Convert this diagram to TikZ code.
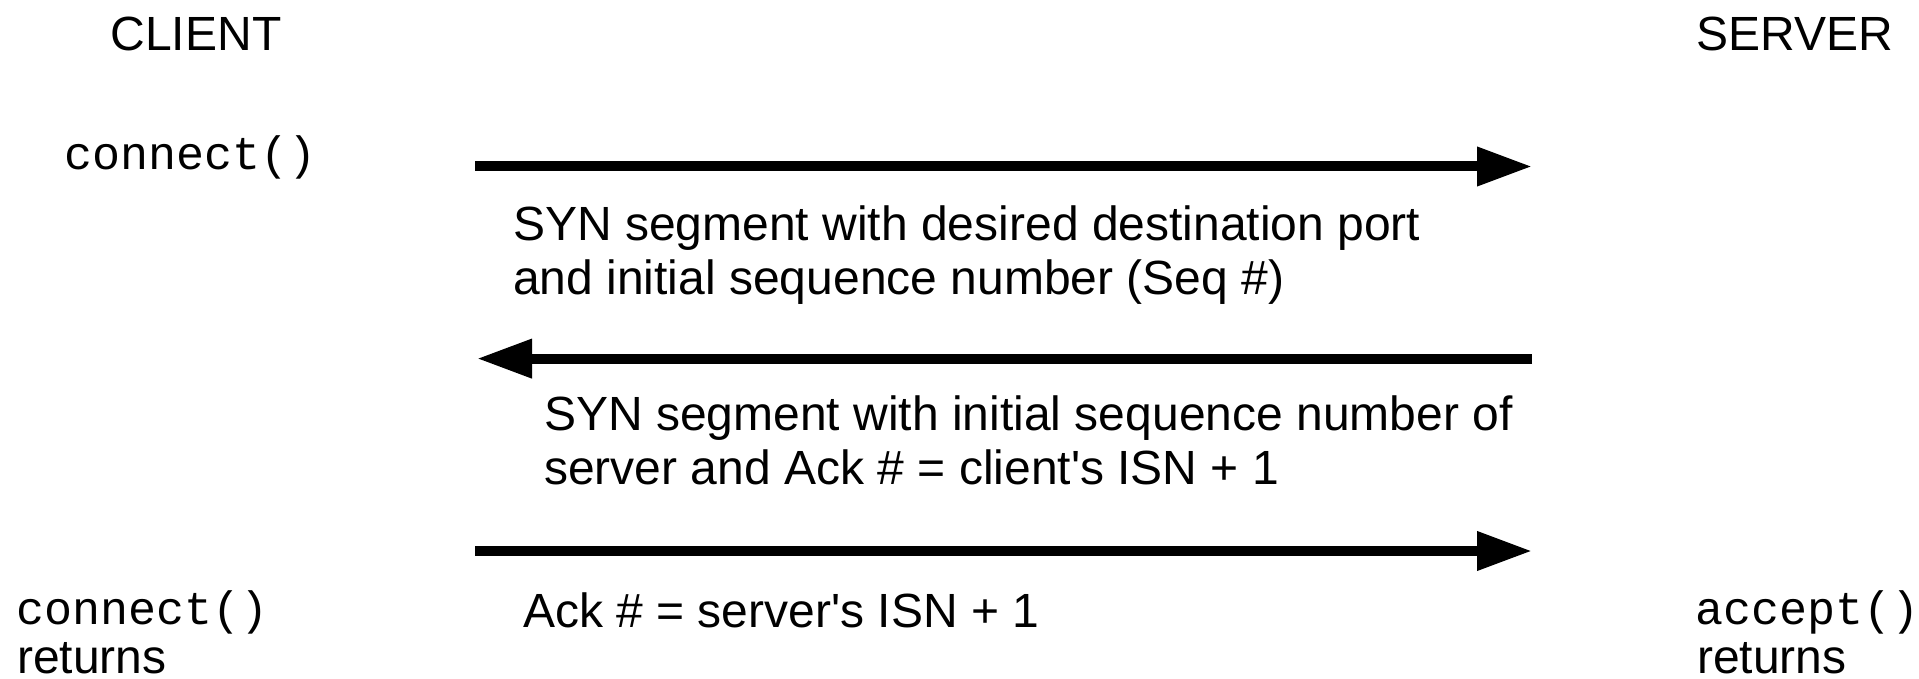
\documentclass[tikz,border=0pt]{standalone}
\usepackage{fontspec}
\setmainfont{Liberation Sans}[Ligatures=TeXOff]
\setmonofont{Liberation Mono}[Ligatures=TeXOff]
\usetikzlibrary{arrows.meta}
\begin{document}
\begin{tikzpicture}[x=1pt,y=-1pt,
  lbl/.style={inner sep=0pt, font=\fontsize{48}{54}\selectfont, anchor=base west},
  code/.style={inner sep=0pt, font=\fontsize{46.7}{54}\selectfont\ttfamily, anchor=base west},
  msg/.style={line width=10pt, -{Triangle[length=55pt,width=37pt]}}]
\useasboundingbox (0,0) rectangle (1919,679);
\node[lbl, anchor=base] (client) at (196,51) {CLIENT};
\node[lbl] (server) at (1696,51) {SERVER};
\node[code] (conn) at (64,170) {connect()};
\coordinate (a1s) at (475,166.5);
\coordinate (a1e) at (1532,166.5);
\draw[msg] (a1s) -- (a1e);
\node[lbl, align=left] (m1) at (513,294) {SYN segment with desired destination port\\and initial sequence number (Seq \#)};
\coordinate (a2s) at (1532,358.6);
\coordinate (a2e) at (477,358.6);
\draw[msg] (a2s) -- (a2e);
\node[lbl, align=left] (m2) at (544,484) {SYN segment with initial sequence number of\\server and Ack \# = client's ISN + 1};
\coordinate (a3s) at (475,551);
\coordinate (a3e) at (1532,551);
\draw[msg] (a3s) -- (a3e);
\node[lbl] (m3) at (523,627) {Ack \# = server's ISN + 1};
\node[code] (cret) at (16,624) {connect()};
\node[lbl] (cret2) at (17,673) {returns};
\node[code] (aret) at (1695,624) {accept()};
\node[lbl] (aret2) at (1697,673) {returns};
\end{tikzpicture}
\end{document}
